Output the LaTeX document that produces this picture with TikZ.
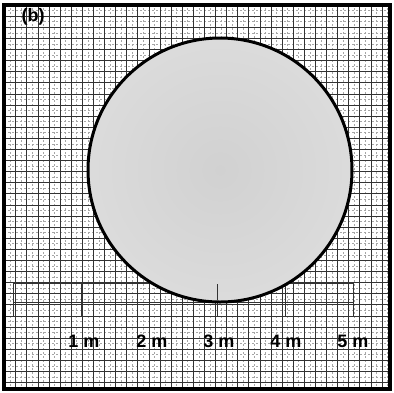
\documentclass[tikz,border=0pt]{standalone}
\usepackage{fontspec}
\setmainfont{Liberation Sans}
\begin{document}
\begin{tikzpicture}[x=1pt,y=-1pt,
  gridsolid/.style={draw=black!80,line width=0.75pt},
  griddash/.style={draw=black!35,line width=0.5pt,dash pattern=on 2pt off 2pt},
  ruler/.style={draw=black!80,line width=0.7pt},
  lbl/.style={font=\fontsize{18}{18}\selectfont\bfseries,inner sep=0pt}]
\useasboundingbox (0,0) rectangle (394,392);
\fill[white] (0,0) rectangle (394,392);
\begin{scope}
\clip (4,5) rectangle (390,389);
\foreach \i in {0,...,35} {
  \draw[griddash] ({10.1+11.1*\i},0) -- ({10.1+11.1*\i},392);
  \draw[griddash] (0,{10.6+11.1*\i}) -- (394,{10.6+11.1*\i});
}
\foreach \i in {0,...,35} {
  \draw[gridsolid] ({4.6+11.1*\i},0) -- ({4.6+11.1*\i},392);
  \draw[gridsolid] (0,{5.1+11.1*\i}) -- (394,{5.1+11.1*\i});
}
\end{scope}
% ruler
\coordinate (r0a) at (13,283); \coordinate (r5a) at (353,283);
\coordinate (r0b) at (13,302); \coordinate (r5b) at (353,302);
\draw[ruler] (r0a) -- (r5a);
\draw[ruler] (r0b) -- (r5b);
\foreach \k in {0,...,5} {
  \coordinate (t\k a) at ({13+68*\k},283);
  \coordinate (t\k b) at ({13+68*\k},317);
  \draw[ruler] (t\k a) -- (t\k b);
}
% circle
\node[circle,minimum size=264pt,inner sep=0pt,draw=black,line width=3pt,
      inner color=black!18,outer color=black!14] (disc) at (220,170) {};
\coordinate (ctA) at (217,284);
\coordinate (ctB) at (217,300);
\draw[ruler] (ctA) -- (ctB);
% labels
\node[lbl] (m1) at (84,341) {1 m};
\node[lbl] (m2) at (152,341) {2 m};
\node[lbl] (m3) at (219,341) {3 m};
\node[lbl] (m4) at (286,341) {4 m};
\node[lbl] (m5) at (353,341) {5 m};
\node[lbl] (b) at (33,17) {(b)};
% frame
\draw[black,line width=4pt] (4,5) rectangle (390,389);
\end{tikzpicture}
\end{document}
